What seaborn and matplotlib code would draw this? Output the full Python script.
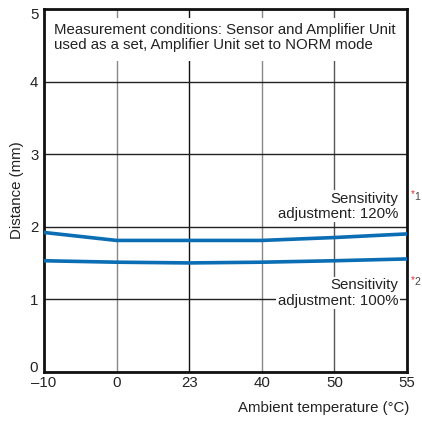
import matplotlib
matplotlib.use("Agg")
import matplotlib.pyplot as plt
import matplotlib.transforms as mtransforms
import seaborn as sns
import pandas as pd

temps = ["\u201310", "0", "23", "40", "50", "55"]
sens120 = [1.92, 1.81, 1.81, 1.81, 1.85, 1.90]
sens100 = [1.53, 1.51, 1.50, 1.51, 1.53, 1.555]
yticks = [0, 1, 2, 3, 4, 5]

sns.set_style("white")
plt.rcParams['font.family'] = ['Liberation Sans', 'DejaVu Sans']

FS = 10.8
fig = plt.figure(figsize=(4.22, 4.21), dpi=100)
ax = fig.add_axes([0.104, 0.117, 0.8605, 0.8616])

pos = list(range(len(temps)))
df = pd.DataFrame({"pos": pos * 2,
                   "dist": sens120 + sens100,
                   "series": ["120"] * len(pos) + ["100"] * len(pos)})
blue = "#0b6db3"
sns.lineplot(data=df, x="pos", y="dist", units="series", estimator=None,
             color=blue, lw=2.6, ax=ax, zorder=3)

ax.set_xlim(0, len(temps) - 1)
ax.set_ylim(0, 5)
ax.set_xticks(pos)
ax.set_xticklabels(temps, fontsize=FS, color="#222")
ax.set_yticks(yticks)
ax.set_yticklabels([str(v) for v in yticks], fontsize=FS, color="#222")
ax.tick_params(axis="x", length=0, pad=3)
ax.tick_params(axis="y", length=0, pad=4)
ylabs = ax.get_yticklabels()
ylabs[0].set_transform(ylabs[0].get_transform() +
                       mtransforms.ScaledTranslation(0, 4 / 72, fig.dpi_scale_trans))
ylabs[-1].set_transform(ylabs[-1].get_transform() +
                        mtransforms.ScaledTranslation(0, -3 / 72, fig.dpi_scale_trans))
ax.set_xlabel("")
ax.set_ylabel("Distance (mm)", fontsize=FS, color="#222", labelpad=4)
fig.text(0.97, 0.015, "Ambient temperature (\u00b0C)", ha="right", va="bottom",
         fontsize=FS, color="#222")

ax.grid(True, lw=1.0, zorder=1)
xcols = ["#888", "#888", "#111", "#888", "#555", "#888"]
for gl, c in zip(ax.xaxis.get_gridlines(), xcols):
    gl.set_color(c)
for gl in ax.yaxis.get_gridlines():
    gl.set_color("#222")
ax.set_axisbelow(True)
for s in ax.spines.values():
    s.set_visible(True)
    s.set_color("#111")
    s.set_linewidth(2.0)

# top condition box
ax.text(0.028, 0.961, "Measurement conditions: Sensor and Amplifier Unit\nused as a set, Amplifier Unit set to NORM mode",
        transform=ax.transAxes, ha="left", va="top", fontsize=FS, color="#222",
        linespacing=1.12, zorder=4)
ax.add_patch(plt.Rectangle((0.003, 0.857), 0.994, 0.118, transform=ax.transAxes,
                           facecolor="white", edgecolor="none", zorder=2))

ax.text(4.88, 2.28, "Sensitivity\nadjustment: 120%", ha="right", va="center",
        fontsize=FS, color="#222", linespacing=1.12, zorder=4,
        bbox=dict(facecolor="white", edgecolor="none", boxstyle="square,pad=0.1"))
ax.text(4.88, 1.085, "Sensitivity\nadjustment: 100%", ha="right", va="center",
        fontsize=FS, color="#222", linespacing=1.12, zorder=4,
        bbox=dict(facecolor="white", edgecolor="none", boxstyle="square,pad=0.1"))

for yv, num in [(2.42, "1"), (1.24, "2")]:
    ax.annotate("*", xy=(1.0, yv), xycoords=("axes fraction", "data"),
                xytext=(2.5, 1.5), textcoords="offset points", ha="left", va="center",
                fontsize=7, color="#e03030", annotation_clip=False)
    ax.annotate(num, xy=(1.0, yv), xycoords=("axes fraction", "data"),
                xytext=(5.2, -0.5), textcoords="offset points", ha="left", va="center",
                fontsize=7.5, color="#444", annotation_clip=False)

fig.savefig("out.png", dpi=100)
